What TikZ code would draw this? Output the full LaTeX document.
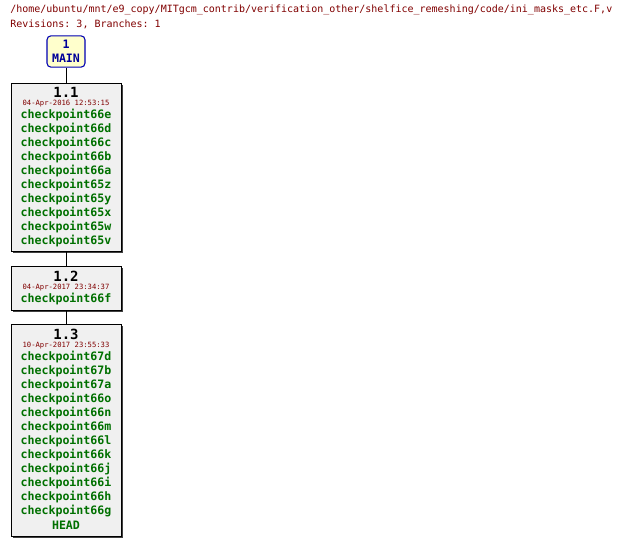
\documentclass[tikz,border=0pt]{standalone}
\usepackage{fontspec}
\setmonofont{DejaVu Sans Mono}
\definecolor{hdr}{HTML}{800000}
\definecolor{tag}{HTML}{007000}
\definecolor{mainfill}{HTML}{FFFFCC}
\definecolor{boxfill}{HTML}{F0F0F0}
\begin{document}
\begin{tikzpicture}[x=0.75pt,y=-0.75pt,
    revbox/.style={draw=black, fill=boxfill, minimum width=110*0.75pt, inner sep=0pt},
    shadow/.style={fill=black!75, minimum width=110*0.75pt, inner sep=0pt},
    revlabel/.style={font=\ttfamily\fontsize{10.5}{10.5}\selectfont\bfseries, inner sep=0pt},
    datelabel/.style={font=\ttfamily\fontsize{5.4}{5.4}\selectfont, text=hdr, inner sep=0pt},
    taglabel/.style={font=\ttfamily\fontsize{8.7}{8.7}\selectfont\bfseries, text=tag, inner sep=0pt}]
  \useasboundingbox (0,0) rectangle (620,545);
  % Header
  \node[anchor=west, text=hdr, font=\ttfamily\fontsize{7.5}{7.5}\selectfont, inner sep=0pt] (path) at (10,10)
    {/home/ubuntu/mnt/e9\_copy/MITgcm\_contrib/verification\_other/shelfice\_remeshing/code/ini\_masks\_etc.F,v};
  \node[anchor=west, text=hdr, font=\ttfamily\fontsize{7.5}{7.5}\selectfont, inner sep=0pt] (info) at (10,24)
    {Revisions: 3, Branches: 1};

  % Branch
  \node[draw=blue!70!black, fill=mainfill, rounded corners=3pt, minimum width=38*0.75pt, minimum height=31*0.75pt,
        align=center, text=blue!60!black, font=\ttfamily\fontsize{8.7}{10.5}\selectfont\bfseries, line width=0.8pt] (main) at (66,51.5) {1\\MAIN};

  % Revision 1.1
  \node[shadow, minimum height=168*0.75pt] at (68,169) {};
  \node[revbox, minimum height=168*0.75pt] (r11) at (66,167) {};
  \node[revlabel] (r11n) at (66,92) {1.1};
  \node[datelabel] (r11d) at (66,103.5) {04-Apr-2016 12:53:15};
  \foreach \t [count=\i from 0] in {66e,66d,66c,66b,66a,65z,65y,65x,65w,65v}
    \node[taglabel] (r11t\i) at (66,115+14*\i) {checkpoint\t};

  % Revision 1.2
  \node[shadow, minimum height=44*0.75pt] at (68,290) {};
  \node[revbox, minimum height=44*0.75pt] (r12) at (66,288) {};
  \node[revlabel] (r12n) at (66,276) {1.2};
  \node[datelabel] (r12d) at (66,287.5) {04-Apr-2017 23:34:37};
  \node[taglabel] (r12t0) at (66,299) {checkpoint66f};

  % Revision 1.3
  \node[shadow, minimum height=212*0.75pt] at (68,432) {};
  \node[revbox, minimum height=212*0.75pt] (r13) at (66,430) {};
  \node[revlabel] (r13n) at (66,334) {1.3};
  \node[datelabel] (r13d) at (66,345.5) {10-Apr-2017 23:55:33};
  \foreach \t [count=\i from 0] in {67d,67b,67a,66o,66n,66m,66l,66k,66j,66i,66h,66g}
    \node[taglabel] (r13t\i) at (66,357+14*\i) {checkpoint\t};
  \node[taglabel] (r13head) at (66,525) {HEAD};

  % Connectors
  \draw (main) -- (r11);
  \draw (r11) -- (r12);
  \draw (r12) -- (r13);
\end{tikzpicture}
\end{document}
